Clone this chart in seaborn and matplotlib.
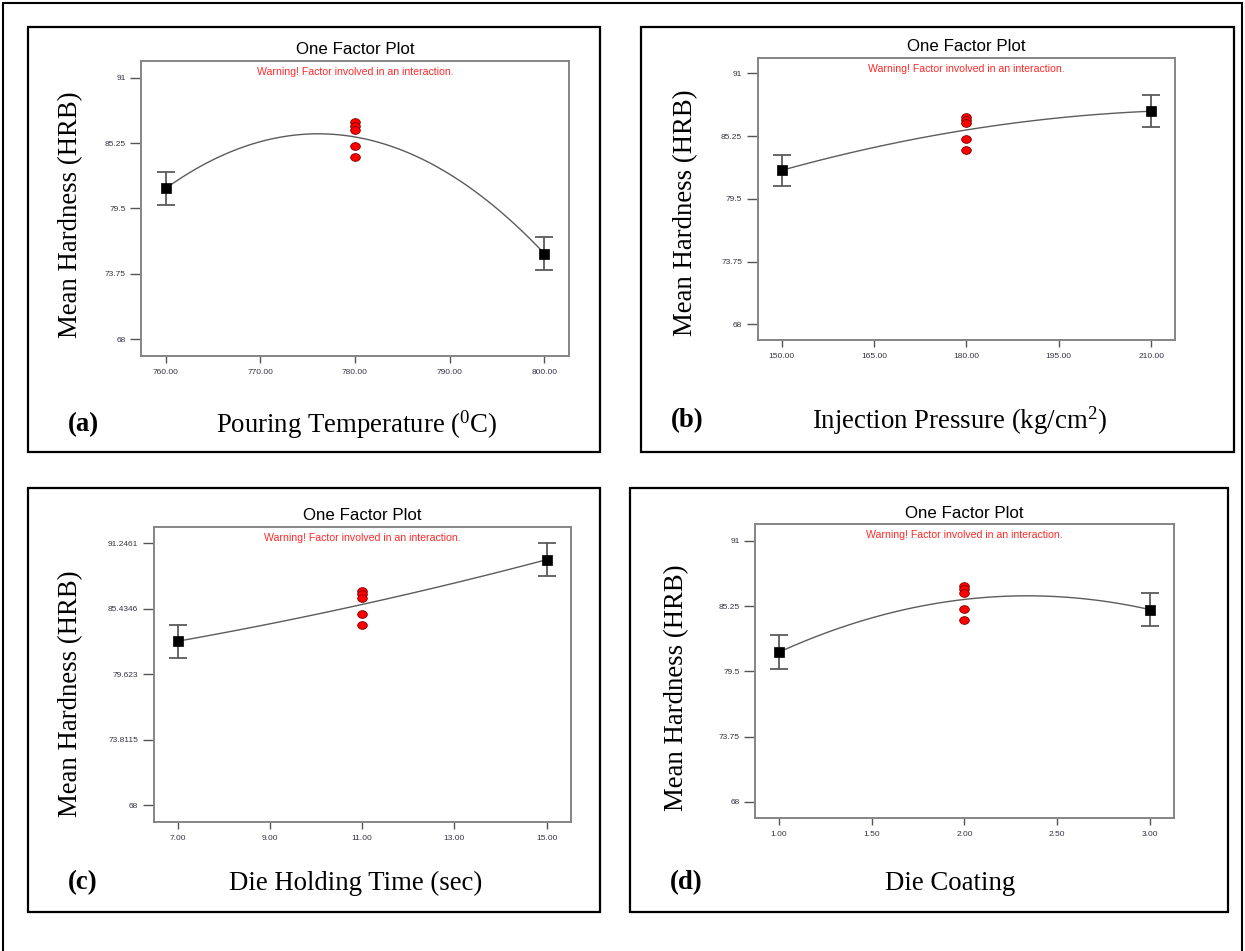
import matplotlib
matplotlib.use("Agg")
import matplotlib.pyplot as plt
import seaborn as sns
import pandas as pd
from matplotlib.patches import Rectangle
from matplotlib.lines import Line2D
from matplotlib.path import Path
from matplotlib.transforms import Affine2D

# ---------------- data ----------------
panel_letters = ["(a)", "(b)", "(c)", "(d)"]
factor_names = ["Pouring Temperature ($^0$C)", "Injection Pressure (kg/cm$^2$)",
                "Die Holding Time (sec)", "Die Coating"]

levels_a = [760, 780, 800]
levels_b = [150, 180, 210]
levels_c = [7, 11, 15]
levels_d = [1, 2, 3]

pred_a = [81.26, 85.78, 75.54]
pred_b = [82.11, 85.82, 87.54]
pred_c = [82.56, 85.82, 89.79]
pred_d = [81.19, 85.83, 84.94]

err_a = [1.45, 1.46]
err_b = [1.45, 1.47]
err_c = [1.46, 1.47]
err_d = [1.49, 1.44]

center_runs = [87.05, 86.75, 86.42, 85.00, 84.00]

xticks_a = [760, 770, 780, 790, 800]
xticks_b = [150, 165, 180, 195, 210]
xticks_c = [7, 9, 11, 13, 15]
xticks_d = [1.0, 1.5, 2.0, 2.5, 3.0]

yticks_std = [68, 73.75, 79.5, 85.25, 91]
yticks_c = [68, 73.8115, 79.623, 85.4346, 91.2461]
ylabels_std = ["68", "73.75", "79.5", "85.25", "91"]
ylabels_c = ["68", "73.8115", "79.623", "85.4346", "91.2461"]

title_text = "One Factor Plot"
warning_text = "Warning! Factor involved in an interaction."
ylabel_text = "Mean Hardness (HRB)"

# ---------------- style ----------------
sns.set_theme(style="white")
plt.rcParams["font.family"] = ["Liberation Sans", "DejaVu Sans"]
plt.rcParams["text.color"] = "black"
plt.rcParams["mathtext.fontset"] = "custom"
plt.rcParams["mathtext.rm"] = "Liberation Serif"
plt.rcParams["mathtext.it"] = "Liberation Serif:italic"
plt.rcParams["mathtext.bf"] = "Liberation Serif:bold"

W, H = 1245, 951
fig = plt.figure(figsize=(W / 100, H / 100), dpi=100)
fig.patch.set_facecolor("white")

def fx(x):
    return x / W

def fy(y):
    return 1 - y / H

# outer frame (top, left, right)
for xs, ys in [([3, 1242], [3, 3]), ([3, 3], [3, 951]), ([1242, 1242], [3, 951])]:
    fig.add_artist(Line2D([fx(v) for v in xs], [fy(v) for v in ys],
                          transform=fig.transFigure, color="black", lw=1.5))

panels = [
    dict(levels=levels_a, pred=pred_a, err=err_a, xt=xticks_a, yt=yticks_std, yl=ylabels_std,
         box=(28, 27, 600, 452), ax=(141, 61, 569, 356), title_y=50, ylab=(71, 215),
         xlab=(357, 425), letter=(83, 425)),
    dict(levels=levels_b, pred=pred_b, err=err_b, xt=xticks_b, yt=yticks_std, yl=ylabels_std,
         box=(641, 27, 1234, 452), ax=(757.5, 57.7, 1175.3, 340), title_y=46.5, ylab=(686, 213),
         xlab=(959, 421), letter=(687, 421)),
    dict(levels=levels_c, pred=pred_c, err=err_c, xt=xticks_c, yt=yticks_c, yl=ylabels_c,
         box=(28, 488, 600, 912), ax=(153.6, 526.7, 570.7, 822), title_y=515.5, ylab=(71, 694),
         xlab=(356, 883), letter=(83, 883)),
    dict(levels=levels_d, pred=pred_d, err=err_d, xt=xticks_d, yt=yticks_std, yl=ylabels_std,
         box=(630, 488, 1228, 912), ax=(755, 524.3, 1173.8, 818.3), title_y=514, ylab=(677, 688),
         xlab=(950, 883), letter=(686, 883)),
]

ell = Path.unit_circle().transformed(Affine2D().scale(1.0, 0.8))

for i, p in enumerate(panels):
    bx0, by0, bx1, by1 = p["box"]
    fig.add_artist(Rectangle((fx(bx0), fy(by1)), (bx1 - bx0) / W, (by1 - by0) / H,
                             transform=fig.transFigure, fill=False, ec="black", lw=1.6))
    l, t, r, b = p["ax"]
    ax = fig.add_axes([fx(l), fy(b), (r - l) / W, (b - t) / H])
    ax.set_facecolor("white")

    lv, pr = p["levels"], p["pred"]
    df_fit = pd.DataFrame({"x": lv, "y": pr})
    sns.regplot(data=df_fit, x="x", y="y", order=2, ci=None, scatter=False, truncate=True,
                ax=ax, line_kws=dict(color="#5c5c5c", lw=1.0))

    x_end = [lv[0], lv[2]]
    y_end = [pr[0], pr[2]]
    ax.errorbar(x_end, y_end, yerr=p["err"], fmt="none", ecolor="#5a5a5a",
                elinewidth=1.3, capsize=6.2, capthick=1.3, zorder=4)
    sns.scatterplot(x=x_end, y=y_end, marker="s", s=42, color="black", edgecolor="black",
                    linewidth=0.5, ax=ax, zorder=5)
    sns.scatterplot(x=[lv[1]] * len(center_runs), y=center_runs, marker=ell, s=48,
                    color="#ff0000", edgecolor="#7a0000", linewidth=0.6, ax=ax, zorder=6)

    xt = p["xt"]
    span_x = xt[-1] - xt[0]
    ax.set_xlim(xt[0] - 0.065 * span_x, xt[-1] + 0.065 * span_x)
    yt = p["yt"]
    span_y = yt[-1] - yt[0]
    ax.set_ylim(yt[0] - 0.063 * span_y, yt[-1] + 0.063 * span_y)
    ax.set_xticks(xt)
    ax.set_xticklabels([f"{v:.2f}" for v in xt])
    ax.set_yticks(yt)
    ax.set_yticklabels(p["yl"])
    ax.set_xlabel("")
    ax.set_ylabel("")
    ax.tick_params(axis="both", which="both", direction="out", color="#555555", width=1.0,
                   labelsize=6, labelcolor="#333344")
    ax.tick_params(axis="y", length=8, pad=3, left=True)
    ax.tick_params(axis="x", length=5, pad=4, bottom=True)
    for s in ax.spines.values():
        s.set_visible(True)
        s.set_color("#858585")
        s.set_linewidth(1.4)

    cx = (l + r) / 2
    fig.text(fx(cx), fy(p["title_y"]), title_text, ha="center", va="center",
             fontsize=12.2, color="black", family=["Liberation Sans", "DejaVu Sans"])
    fig.text(fx(cx), fy(t + 11), warning_text, ha="center", va="center",
             fontsize=7.6, color="#ff2a2a", family=["Liberation Sans", "DejaVu Sans"])
    fig.text(fx(p["ylab"][0]), fy(p["ylab"][1]), ylabel_text, ha="center", va="center",
             rotation=90, fontsize=19.3, color="black", family=["Liberation Serif", "DejaVu Serif"])
    fig.text(fx(p["xlab"][0]), fy(p["xlab"][1]), factor_names[i], ha="center", va="center",
             fontsize=19.3, color="black", family=["Liberation Serif", "DejaVu Serif"])
    fig.text(fx(p["letter"][0]), fy(p["letter"][1]), panel_letters[i], ha="center", va="center",
             fontsize=19.3, fontweight="bold", color="black",
             family=["Liberation Serif", "DejaVu Serif"])

fig.savefig("out.png", dpi=100, facecolor="white")
